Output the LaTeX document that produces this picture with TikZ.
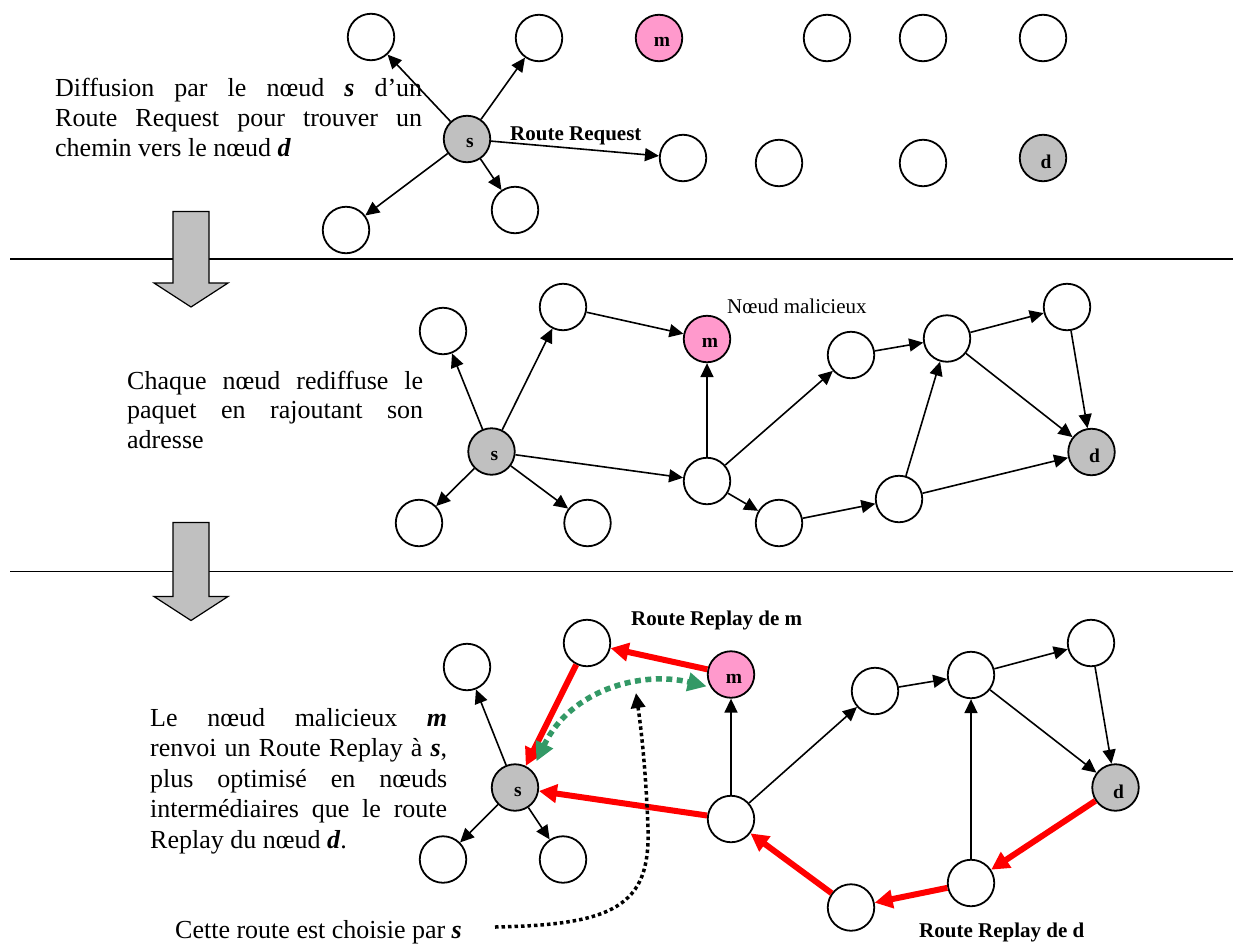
\documentclass[tikz,border=0pt]{standalone}
\usepackage{fontspec}
\setmainfont{Liberation Serif}
\usetikzlibrary{arrows.meta}
\definecolor{nodepink}{HTML}{FF99CC}
\definecolor{nodegray}{HTML}{C0C0C0}
\definecolor{replayred}{HTML}{FF0000}
\definecolor{pathgreen}{HTML}{339966}
\newcommand\bodyfont{\fontsize{26}{30}\selectfont}
\newcommand\bi[1]{\textbf{\textit{#1}}}
\newcommand\blocktext[3]{\parbox[t]{#1}{\fontsize{26}{#2}\selectfont\hyphenpenalty=10000\exhyphenpenalty=10000\tolerance=10000\hbadness=10000 #3}}

\begin{document}
\begin{tikzpicture}[x=1pt,y=-1pt,
  nd/.style={circle, draw, line width=1.8pt, minimum size=46.5pt, inner sep=0pt, fill=white},
  malnode/.style={nd, fill=nodepink},
  endnode/.style={nd, fill=nodegray},
  letter/.style={font=\fontsize{19.5}{20}\selectfont\bfseries, xshift=3pt, yshift=-4pt, inner sep=0pt},
  fwd/.style={line width=1.6pt, -{Triangle[length=14pt,width=13pt]}},
  replay/.style={line width=6pt, draw=replayred, -{Triangle[length=18pt,width=18pt]}},
  fake/.style={line width=5.5pt, draw=pathgreen, dash pattern=on 6pt off 4.5pt,
     {Triangle[length=19pt,width=18pt]}-{Triangle[length=19pt,width=18pt]}},
  chosen/.style={line width=3.5pt, dash pattern=on 3.5pt off 3pt, -{Triangle[length=15pt,width=14pt]}},
  lbl/.style={font=\fontsize{21}{24}\selectfont\bfseries, inner sep=0pt, anchor=base west},
  txt/.style={inner sep=0pt, anchor=base west},
  rule/.style={line width=1.5pt},
  blockarrow/.style={fill=nodegray, draw, line width=1.2pt, line join=miter}
]
\useasboundingbox (0,0) rectangle (1233,945);

% separating rules and step arrows
\coordinate (r1a) at (10,259);  \coordinate (r1b) at (1233,259);
\coordinate (r2a) at (10,571.5); \coordinate (r2b) at (1233,571.5);
\draw[rule] (r1a) -- (r1b);
\draw[rule] (r2a) -- (r2b);
\draw[blockarrow] (173,211.5) -- (209,211.5) -- (209,283) -- (228,283) -- (191,307)
  -- (154,283) -- (173,283) -- cycle;
\draw[blockarrow] (173,522.5) -- (209,522.5) -- (209,596.5) -- (228,596.5) -- (191,620.5)
  -- (154,596.5) -- (173,596.5) -- cycle;

% ---------- step 1: route request broadcast ----------
\node[nd] (t1) at (371,37) {};
\node[nd] (t2) at (539,38) {};
\node[malnode, label={[letter]center:m}] (tm) at (659,38) {};
\node[nd] (t3) at (827,38) {};
\node[nd] (t4) at (923,38) {};
\node[nd] (t5) at (1043,38) {};
\node[endnode, label={[letter]center:s}] (ts) at (467,139) {};
\node[nd] (t6) at (683,158) {};
\node[nd] (t7) at (779,163) {};
\node[nd] (t8) at (923,163) {};
\node[endnode, label={[letter]center:d}] (td) at (1043,158) {};
\node[nd] (t9) at (346,230) {};
\node[nd] (t10) at (515,210) {};

\draw[fwd] (ts) -- (t1);
\draw[fwd] (ts) -- (t2);
\draw[fwd] (ts) -- (t9);
\draw[fwd] (ts) -- (t10);
\draw[fwd] (ts) -- (t6);
\node[lbl] (rreq) at (510,140) {Route Request};

\node[txt] (txt1) at (55,96) {\blocktext{367pt}{30pt}{Diffusion par le nœud \bi{s} d’un\linebreak
  Route Request pour trouver un\linebreak chemin vers le nœud \bi{d}}};

% ---------- step 2: every node forwards the request ----------
\node[nd] (a1) at (443,331) {};
\node[nd] (a2) at (563,307) {};
\node[malnode, label={[letter]center:m}] (am) at (707,339) {};
\node[nd] (a7) at (851,355) {};
\node[nd] (a8) at (947,338.5) {};
\node[nd] (a9) at (1067,307) {};
\node[endnode, label={[letter]center:s}] (as) at (491.5,451.5) {};
\node[endnode, label={[letter]center:d}] (ad) at (1091.5,452) {};
\node[nd] (a5) at (707,481) {};
\node[nd] (a10) at (899,499) {};
\node[nd] (a3) at (419,523) {};
\node[nd] (a4) at (587.5,523) {};
\node[nd] (a6) at (779,523) {};

\draw[fwd] (as) -- (a1);
\draw[fwd] (as) -- (a2);
\draw[fwd] (as) -- (a3);
\draw[fwd] (as) -- (a4);
\draw[fwd] (as) -- (a5);
\draw[fwd] (a2) -- (am);
\draw[fwd] (a5) -- (am);
\draw[fwd] (a5) -- (a7);
\draw[fwd] (a5) -- (a6);
\draw[fwd] (a6) -- (a10);
\draw[fwd] (a7) -- (a8);
\draw[fwd] (a8) -- (a9);
\draw[fwd] (a9) -- (ad);
\draw[fwd] (a8) -- (ad);
\draw[fwd] (a10) -- (a8);
\draw[fwd] (a10) -- (ad);
\node[txt, font=\fontsize{21}{24}\selectfont] (mallbl) at (727,313) {Nœud malicieux};

\node[txt] (txt2) at (127,389) {\blocktext{296pt}{29.5pt}{Chaque nœud rediffuse le\linebreak
  paquet en rajoutant son\linebreak adresse}};

% ---------- step 3: route replies ----------
\node[nd] (b1) at (467,667) {};
\node[nd] (b2) at (587,643) {};
\node[malnode, label={[letter]center:m}] (bm) at (731,674.5) {};
\node[nd] (b7) at (875,691) {};
\node[nd] (b8) at (971,675) {};
\node[nd] (b9) at (1091,643) {};
\node[endnode, label={[letter]center:s}] (bs) at (515,787.5) {};
\node[endnode, label={[letter]center:d}] (bd) at (1115.5,787.5) {};
\node[nd] (b5) at (731,819) {};
\node[nd] (b3) at (443,859.5) {};
\node[nd] (b4) at (563,859.5) {};
\node[nd] (b10) at (971,883) {};
\node[nd] (b6) at (851,907.5) {};

\draw[fwd] (bs) -- (b1);
\draw[fwd] (bs) -- (b3);
\draw[fwd] (bs) -- (b4);
\draw[fwd] (b5) -- (bm);
\draw[fwd] (b5) -- (b7);
\draw[fwd] (b7) -- (b8);
\draw[fwd] (b8) -- (b9);
\draw[fwd] (b9) -- (bd);
\draw[fwd] (b8) -- (bd);
\draw[fwd] (b10) -- (b8);

\draw[replay] (bm) -- (b2);
\draw[replay] (b2) -- (bs);
\draw[replay] (b5) -- (bs);
\draw[replay] (bd) -- (b10);
\draw[replay] (b10) -- (b6);
\draw[replay] (b6) -- (b5);

% forged shortcut between s and m
\draw[fake, shorten <=10pt, shorten >=4pt] (bs.45) .. controls +(38,-80) and +(-70,-17) .. (bm.212);

% the route finally chosen by s
\coordinate (cstart) at (495,927);
\coordinate (cbend) at (648,830);
\coordinate (ctip) at (636,693);
\draw[chosen] (cstart) .. controls (615,925) and (650,905) .. (cbend)
  .. controls (646,770) and (641,728) .. (ctip);

\node[lbl] (rrm) at (631,625) {Route Replay de m};
\node[lbl] (rrd) at (919,937) {Route Replay de d};

\node[txt] (txt3) at (150,726) {\blocktext{297pt}{30.5pt}{Le nœud malicieux \bi{m}\linebreak
  renvoi un Route Replay à \bi{s},\linebreak plus optimisé en nœuds\linebreak
  intermédiaires que le route\linebreak Replay du nœud \bi{d}.}};
\node[txt, font=\bodyfont] (txt4) at (175,938) {Cette route est choisie par \bi{s}};
\end{tikzpicture}
\end{document}
